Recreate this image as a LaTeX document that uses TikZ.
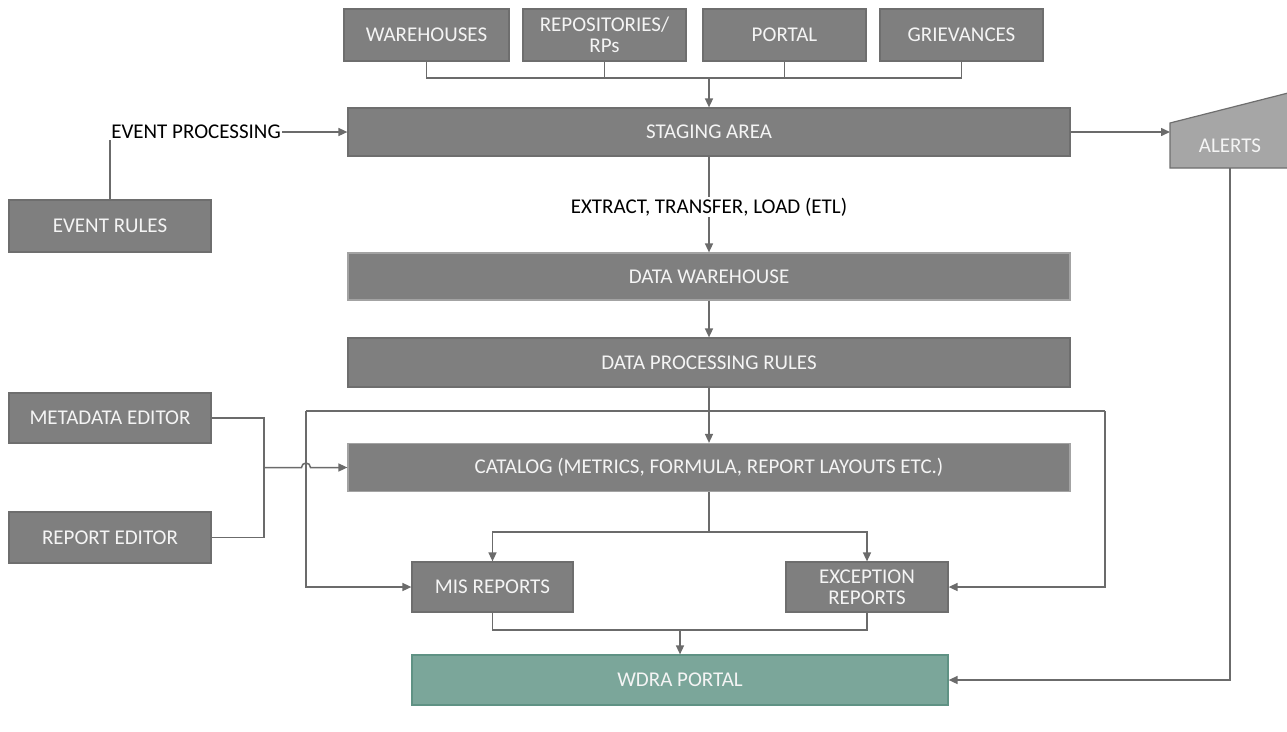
\documentclass[tikz,border=0pt]{standalone}
\usepackage{fontspec}
\setmainfont{Carlito}
\usetikzlibrary{arrows.meta}
\definecolor{boxfill}{HTML}{7F7F7F}
\definecolor{boxline}{HTML}{6E6E6E}
\definecolor{lightline}{HTML}{A3A3A3}
\definecolor{boxtext}{HTML}{F4F4F4}
\definecolor{alertfill}{HTML}{A6A6A6}
\definecolor{wdrafill}{HTML}{7BA69A}
\definecolor{wdraline}{HTML}{5F9284}
\definecolor{lineclr}{HTML}{6B6B6B}
\begin{document}
\begin{tikzpicture}[x=1pt,y=-1pt,
  box/.style={draw=boxline, fill=boxfill, line width=1.2pt, text=boxtext,
    font=\fontsize{21}{21}\selectfont, inner sep=0pt, align=center},
  lbox/.style={box, draw=lightline},
  plain/.style={font=\fontsize{21}{21}\selectfont, text=black, inner sep=1pt},
  conn/.style={draw=lineclr, line width=1.5pt},
  arr/.style={conn, -{Triangle[length=9pt,width=8pt]}}]
\useasboundingbox (0,0) rectangle (1287,731);

% top sources
\node[box, minimum width=165, minimum height=52] (wh) at (426.5,35) {WAREHOUSES};
\node[box, minimum width=163, minimum height=52] (rp) at (604.5,35) {REPOSITORIES/\\RPs};
\node[box, minimum width=163, minimum height=52] (po) at (784.5,35) {PORTAL};
\node[box, minimum width=163, minimum height=52] (gr) at (961.5,35) {GRIEVANCES};

% main column
\node[box, minimum width=722, minimum height=48] (stg) at (709,132) {STAGING AREA};
\node[lbox, minimum width=722, minimum height=47] (dw) at (709,276.5) {DATA WAREHOUSE};
\node[box, minimum width=722, minimum height=49] (dpr) at (709,362.5) {DATA PROCESSING RULES};
\node[lbox, minimum width=722, minimum height=48] (cat) at (709,467.5) {CATALOG (METRICS, FORMULA, REPORT LAYOUTS ETC.)};

% left boxes
\node[box, minimum width=202, minimum height=52] (er) at (110,226) {EVENT RULES};
\node[box, minimum width=202, minimum height=50] (me) at (110,418) {METADATA EDITOR};
\node[box, minimum width=202, minimum height=51] (re) at (110,537.5) {REPORT EDITOR};

% reports
\node[box, minimum width=161, minimum height=50] (mis) at (492.5,587) {MIS REPORTS};
\node[box, minimum width=162, minimum height=50] (exc) at (867,587) {EXCEPTION\\REPORTS};
\node[box, draw=wdraline, fill=wdrafill, minimum width=536, minimum height=50] (wd) at (680,680) {WDRA PORTAL};

% alerts
\draw[draw=boxline, fill=alertfill, line width=1.2pt] (1170,123) -- (1292,92) -- (1292,168) -- (1170,168) -- cycle;
\node[text=boxtext, font=\fontsize{21}{21}\selectfont] (al) at (1230,146) {ALERTS};
\coordinate (alL) at (1170,132);
\coordinate (alB) at (1230,168);

% labels
\node[plain, anchor=east] (ep) at (282,132) {EVENT PROCESSING};
\node[plain] (etl) at (709,207) {EXTRACT, TRANSFER, LOAD (ETL)};

% connectors: top bus
\coordinate (bus) at (709,78);
\draw[conn] (wh.south) |- (gr.south |- bus) -- (gr.south);
\draw[conn] (rp.south) -- (rp.south |- bus);
\draw[conn] (po.south) -- (po.south |- bus);
\draw[arr] (bus) -- (stg.north);

% event processing
\draw[arr] (ep.east) -- (stg.west);
\draw[conn] (er.north) -- (er.north |- ep.south);

% staging to alerts
\draw[arr] (stg.east) -- (alL);

% ETL
\draw[conn] (stg.south) -- (etl.north);
\draw[arr] (etl.south) -- (dw.north);
\draw[arr] (dw.south) -- (dpr.north);
\draw[arr] (dpr.south) -- (cat.north);

% loop around catalog
\coordinate (lpL) at (306,411);
\coordinate (lpR) at (1105,411);
\draw[conn] (lpL) -- (lpR);
\draw[arr] (lpL) |- (mis.west);
\draw[arr] (lpR) |- (exc.east);

% editors
\coordinate (ej) at (264,467.5);
\coordinate (hop) at (301.5,467.5);
\draw[conn] (me.east) -| (ej) |- (re.east);
\draw[arr] (ej) -- (hop) arc[start angle=180, end angle=0, radius=4.5pt] -- (cat.west);

% catalog split
\coordinate (sp) at (709,532);
\draw[conn] (cat.south) -- (sp);
\draw[arr] (sp) -| (mis.north);
\draw[arr] (sp) -| (exc.north);

% merge to portal
\coordinate (mg) at (680,630);
\draw[conn] (mis.south) |- (exc.south |- mg) -- (exc.south);
\draw[arr] (mg) -- (wd.north);

% alerts to portal
\draw[arr] (alB) |- (wd.east);
\end{tikzpicture}
\end{document}
